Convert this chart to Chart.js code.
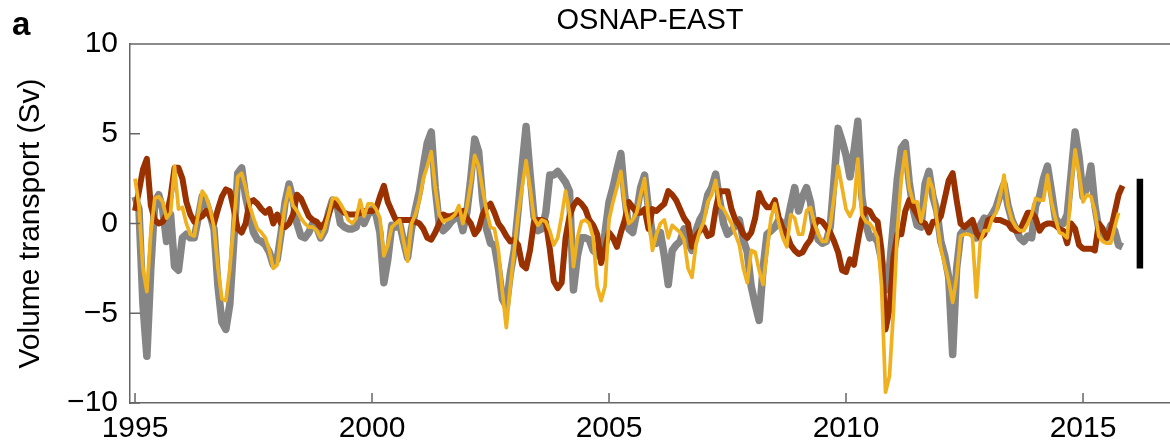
<!DOCTYPE html>
<html><head><meta charset="utf-8">
<script src="https://cdn.jsdelivr.net/npm/chart.js@4/dist/chart.umd.min.js"></script>
<style>
html,body{margin:0;padding:0;background:#fff;}
#wrap{position:relative;width:1170px;height:445px;overflow:hidden;}
#panel{position:absolute;left:12px;top:7px;font:bold 33px "Liberation Sans",Arial,sans-serif;color:#000;line-height:1;}
</style></head><body>
<div id="wrap"><canvas id="c" width="1170" height="445"></canvas><div id="panel">a</div></div>
<script>
// Monthly series starting January 1995
const startYear = 1995;
const grayTotal = [
 1.5, 0.8, -4.5, -7.4, -2.5, 1.2, 1.6, 0.8, -1.0, 0.5,
 -2.4, -2.6, -0.8, -0.6, -0.8, -0.8, 0.3, 1.5, 1.2, 0.5,
 -0.3, -3.5, -5.5, -5.9, -4.5, -1.0, 2.8, 3.1, 1.5, 0.5,
 -0.5, -0.9, -1.0, -1.2, -1.6, -2.3, -2.0, -0.5, 1.2, 2.2,
 1.3, 0.0, -0.7, -0.8, -0.5, 0.0, -0.2, -0.8, -0.4, 0.6,
 1.3, 1.2, 0.0, -0.2, -0.3, -0.3, -0.2, 0.7, 0.0, 0.5,
 0.8, 0.5, -0.5, -3.3, -2.0, -0.1, -0.2, 0.0, -1.0, -1.9,
 -0.3, 0.8, 1.8, 3.2, 4.5, 5.1, 2.0, 0.0, -0.4, -0.2,
 0.1, 0.3, 0.5, -0.4, 0.6, 2.5, 4.7, 4.0, 1.3, -0.3,
 -1.1, -1.2, -2.5, -4.2, -4.6, -2.8, -1.5, 0.8, 3.2, 5.4,
 2.8, 0.4, -0.4, -0.3, 0.6, 2.7, 2.7, 2.9, 2.6, 2.3,
 1.8, -3.7, -1.8, -0.8, -0.8, -0.9, -1.5, -1.7, -1.9, -0.5,
 1.2, 2.0, 3.0, 3.9, 1.5, -0.3, -0.5, 0.6, 2.0, 2.7,
 0.8, -0.6, -1.1, -0.5, -1.8, -3.4, -1.5, -1.2, -1.0, -0.3,
 -1.0, -1.5, -0.4, 0.2, 0.6, 1.6, 2.0, 2.75, 1.3, 0.0,
 -0.6, -0.4, -0.1, 0.2, -0.9, -1.6, -3.5, -4.5, -5.4, -2.5,
 -0.6, -0.4, -0.2, 0.2, 0.0, -0.1, 1.0, 2.0, 0.7, 1.5,
 2.0, 1.2, -0.3, -0.9, -1.1, -1.0, -0.2, 2.5, 5.3, 4.6,
 3.8, 2.6, 4.0, 5.7, 1.5, 0.0, -0.8, -0.7, -1.0, -2.0,
 -3.7, -2.5, 0.0, 2.5, 4.2, 4.5, 2.3, 0.8, -0.1, -0.2,
 2.2, 2.9, 1.5, 0.7, -1.0, -1.8, -3.0, -7.3, -2.5, -0.6,
 -0.3, -0.2, -0.6, -0.8, -0.1, 0.3, 0.2, 0.5, 0.9, 1.6,
 2.2, 1.0, 0.2, -0.3, -0.8, -1.0, -0.7, -0.8, 1.0, 1.5,
 2.5, 3.2, 1.8, 0.3, 0.0, 0.0, 0.5, 2.8, 5.1, 3.7,
 1.5, 2.0, 3.2, 1.0, -0.3, -0.7, -0.8, -0.1, -0.4, -1.2,
 -1.3
];
const redSeries = [
 0.7, 1.8, 3.0, 3.6, 1.0, 0.2, 0.0, 0.1, 0.5, 1.5,
 3.1, 3.1, 2.5, 1.2, 0.5, 0.1, 0.3, 0.4, 0.7, 0.4,
 0.0, 0.8, 1.5, 1.9, 1.8, 0.8, -0.3, -0.5, 0.0, 1.2,
 1.3, 1.1, 0.8, 0.6, 0.8, 0.0, 0.5, 0.0, -0.2, 0.0,
 0.5, 1.6, 1.4, 0.9, 0.4, 0.2, 0.1, -0.2, 0.0, 0.5,
 1.2, 1.0, 0.8, 0.6, 0.5, 0.5, 0.5, 0.6, 0.7, 0.7,
 0.7, 0.8, 1.5, 2.1, 1.2, 0.7, 0.2, 0.2, 0.2, 0.2,
 0.2, 0.1, 0.0, -0.3, -0.8, -0.9, -0.5, 0.0, 0.5, 0.4,
 0.4, 0.5, 0.6, 0.7, 0.3, 0.0, -0.6, -0.3, 0.5, 0.9,
 1.1, 0.6, 0.0, -0.3, -0.7, -1.0, -0.9, -1.2, -2.3, -2.5,
 -1.5, 0.1, 0.2, 0.2, 0.1, -1.4, -3.2, -3.6, -3.3, -0.8,
 0.4, 1.0, 1.3, 1.1, 0.8, 0.2, -0.1, -0.6, -2.2, -1.4,
 -0.5, -0.8, -1.3, -0.5, 0.2, 1.2, 0.9, 0.6, 0.6, 0.8,
 -0.3, 0.8, 0.7, 0.9, 1.1, 1.8, 1.6, 1.3, 0.8, 0.3,
 0.0, -1.3, -0.7, -0.4, -0.2, -0.7, -0.6, 0.8, 1.8, 1.8,
 1.8, 0.8, 0.2, -0.1, -0.6, -0.8, -0.5, 0.3, 1.7, 1.2,
 0.9, 0.9, 1.3, 0.3, -0.3, -0.6, -1.2, -1.5, -1.7, -1.6,
 -1.2, -0.9, -0.1, 0.2, 0.1, -0.2, -0.5, -1.0, -1.6, -2.6,
 -2.7, -2.0, -2.3, -1.0, 0.2, 0.8, 0.7, 0.3, 0.1, -1.5,
 -5.9, -4.8, -1.9, -0.6, -0.6, 0.7, 1.3, 0.9, 0.5, 0.1,
 0.0, -0.5, 0.1, 0.1, 0.4, 1.4, 2.4, 2.8, 1.3, 0.0,
 -0.2, 0.0, 0.2, -0.5, -0.8, -0.6, 0.2, 0.3, 0.2, 0.2,
 0.1, 0.0, -0.3, -0.4, -0.4, 0.1, 0.6, 0.6, 0.3, -0.4,
 -0.1, 0.0, 0.0, -0.1, -0.3, -0.4, -1.1, 0.0, -0.3, -1.2,
 -1.4, -1.4, -1.4, -1.5, 0.0, -0.3, -0.8, -0.4, 0.6, 1.6,
 2.1
];
const yellowSeries = [
 2.5, 1.0, -2.5, -3.8, -0.5, 1.4, 1.5, 1.2, 0.3, 0.6,
 3.2, 0.8, 0.9, 0.0, -0.6, -0.7, 0.5, 1.8, 1.5, 0.8,
 -0.2, -2.5, -4.2, -4.3, -2.5, 0.0, 2.6, 2.8, 2.0, 1.0,
 0.3, -0.3, -0.5, -0.8, -1.5, -2.5, -2.3, -0.5, 1.0, 2.0,
 1.0, 0.7, 0.3, 0.0, -0.2, -0.2, -0.4, -0.8, -0.3, 0.5,
 1.4, 1.4, 1.1, 0.7, 0.2, 0.0, 0.3, 1.3, 0.4, 1.1,
 1.1, 0.8, 0.3, -1.8, -1.2, -0.2, 0.0, 0.2, -1.0, -2.1,
 0.0, 0.5, 1.3, 2.5, 3.2, 4.0, 2.0, 0.5, 0.1, 0.2,
 0.3, 0.5, 1.0, 0.0, 0.9, 2.2, 3.8, 3.2, 1.9, 0.7,
 -0.2, -0.3, -1.5, -3.8, -5.8, -3.5, -1.5, 0.5, 2.0, 3.5,
 2.0, 0.3, -0.1, 0.2, 0.1, -0.4, -1.2, -0.8, 0.4, 1.8,
 0.6, -2.4, -0.8, 0.1, 0.2, 0.0, -0.8, -3.5, -4.3, -3.5,
 0.2, 1.2, 2.0, 2.9, 1.0, 0.0, 0.2, 0.6, 1.6, 2.5,
 0.3, -1.5, -0.6, 0.0, 0.2, -0.8, -0.1, -0.3, -0.5, -0.9,
 -2.5, -3.0, -1.2, -0.4, 0.1, 1.2, 1.6, 2.4, 1.0, 0.8,
 0.4, 0.0, -0.6, -1.2, -2.5, -3.3, -1.5, -1.6, -2.6, -3.4,
 -1.5, 0.3, 1.1, 0.0, -0.8, -1.3, 0.5, 0.3, -0.6, -0.6,
 0.7, 0.9, 0.0, -0.6, -1.0, -1.0, -0.1, 1.5, 3.2, 2.0,
 0.8, 0.4, 0.9, 3.6, 0.5, 0.1, 0.0, -0.3, -0.8, -3.5,
 -9.4, -8.5, -4.9, -0.4, 2.5, 4.0, 2.0, 1.2, 1.2, 0.1,
 1.1, 2.5, 1.9, 0.2, -1.4, -2.3, -3.2, -4.4, -3.0, -0.7,
 -0.6, -0.6, -0.7, -4.1, -1.0, -0.4, -0.4, 0.3, 0.6, 1.5,
 2.7, 1.0, 0.2, -0.2, -0.4, -0.4, 0.0, 0.5, 1.4, 1.3,
 1.3, 2.7, 1.2, 0.3, -0.5, -0.6, -0.8, 2.0, 4.1, 2.8,
 1.2, 1.6, 1.5, 0.7, -0.7, -1.0, -1.1, -1.1, -0.2, 0.6,
 null
];
const xTicks = [1995, 2000, 2005, 2010, 2015];
const yTicks = [-10, -5, 0, 5, 10];
const scaleBarYear = 2016.2;
const scaleBarRange = [2.5, -2.5];

const FONT = '"Liberation Sans", Arial, Helvetica, sans-serif';
const AXIS = '#666666';
const toPoints = arr => arr.map((v, i) => ({x: startYear + i / 12, y: v}));

const frame = {
  id: 'frame',
  afterDraw(chart) {
    const {ctx, chartArea: a, scales: {x, y}} = chart;
    ctx.save();
    ctx.strokeStyle = AXIS; ctx.lineWidth = 1.5;
    ctx.beginPath();
    ctx.moveTo(a.left, a.top); ctx.lineTo(a.right, a.top);
    xTicks.forEach(v => { const p = x.getPixelForValue(v); ctx.moveTo(p, a.bottom); ctx.lineTo(p, a.bottom - 10); });
    yTicks.forEach(v => { const p = y.getPixelForValue(v); ctx.moveTo(a.left, p); ctx.lineTo(a.left + 10, p); });
    ctx.stroke();
    ctx.restore();
  }
};

const lineDs = (data, color, width, order) => ({
  data: toPoints(data), borderColor: color, backgroundColor: color, borderWidth: width,
  pointRadius: 0, tension: 0, borderJoinStyle: 'round', borderCapStyle: 'butt', order, fill: false
});

new Chart(document.getElementById('c'), {
  type: 'line',
  data: {
    datasets: [
      lineDs(grayTotal, '#858585', 7.5, 4),
      lineDs(redSeries, '#9a3100', 6, 3),
      lineDs(yellowSeries, '#efb120', 3.7, 2),
      {data: scaleBarRange.map(v => ({x: scaleBarYear, y: v})), borderColor: '#000', borderWidth: 6.5,
       pointRadius: 0, borderCapStyle: 'butt', order: 1, fill: false}
    ]
  },
  options: {
    responsive: false, animation: false, devicePixelRatio: 1,
    layout: {padding: {left: 0, right: 0, top: 0, bottom: 0}},
    plugins: {
      legend: {display: false}, tooltip: {enabled: false},
      title: {display: true, text: 'OSNAP-EAST', color: '#000', fullSize: false,
        font: {family: FONT, size: 29, weight: 'normal'}, padding: {top: 4, bottom: 5.2}}
    },
    scales: {
      x: {
        type: 'linear', min: 1994.894, max: 2016.835,
        afterBuildTicks: s => { s.ticks = xTicks.map(v => ({value: v})); },
        afterFit: s => { s.height = 42; },
        ticks: {callback: v => String(v), color: '#000', font: {family: FONT, size: 30}, padding: 8, maxRotation: 0, autoSkip: false},
        grid: {display: true, drawOnChartArea: false, drawTicks: false},
        border: {display: true, color: AXIS, width: 1.5}
      },
      y: {
        min: -10, max: 10,
        afterBuildTicks: s => { s.ticks = yTicks.map(v => ({value: v})); },
        afterFit: s => { s.width = 130; },
        ticks: {callback: v => (v < 0 ? '\u2212' + Math.abs(v) : String(v)), color: '#000', font: {family: FONT, size: 30}, padding: 12},
        grid: {display: true, drawOnChartArea: false, drawTicks: false},
        border: {display: true, color: AXIS, width: 1.5},
        title: {display: true, text: 'Volume transport (Sv)', color: '#000', font: {family: FONT, size: 30}, padding: {top: 13, bottom: 0}}
      }
    }
  },
  plugins: [frame]
});
</script>
</body></html>
